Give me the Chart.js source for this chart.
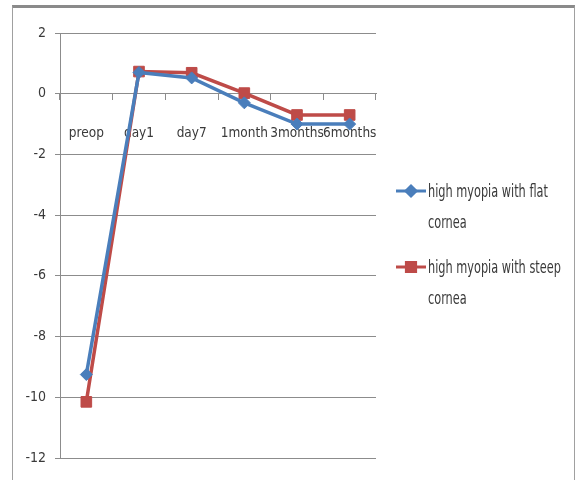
<!DOCTYPE html>
<html>
<head>
<meta charset="utf-8">
<script src="https://cdn.jsdelivr.net/npm/chart.js@4"></script>
<style>
    body { margin: 0; background: #fff; }
    #wrap { position: relative; width: 576px; height: 480px; overflow: hidden; }
    #frame {
        position: absolute; left: 12px; top: 5px; width: 561px; height: 520px;
        border: 1px solid #a0a0a0; border-top: 3px solid #8a8a8a;
    }
    canvas { position: absolute; left: 0; top: 0; }
</style>
</head>
<body>
<div id="wrap">
    <div id="frame"></div>
    <canvas id="lineChart" width="576" height="480"></canvas>
</div>
<script>
    const categories = ['preop', 'day1', 'day7', '1month', '3months', '6months'];
    const flatCornea = [-9.25, 0.7, 0.52, -0.3, -1.0, -1.0];
    const steepCornea = [-10.15, 0.73, 0.69, 0.02, -0.7, -0.7];
    const seriesNames = ['high myopia with flat cornea', 'high myopia with steep cornea'];
    const yTicks = [2, 0, -2, -4, -6, -8, -10, -12];

    const fontFamily = "'DejaVu Sans Condensed', 'Liberation Sans Narrow', sans-serif";
    const textColor = '#3a3a3a';
    const gridColor = '#8c8c8c';

    // Legend on the right, text wrapped on two lines like the original
    const sideLegend = {
        id: 'sideLegend',
        afterDraw(chart) {
            const ctx = chart.ctx;
            const rows = [191, 267];
            const markerSize = [5, 6.5];
            ctx.save();
            ctx.font = '17px ' + fontFamily;
            ctx.textBaseline = 'middle';
            chart.data.datasets.forEach((ds, i) => {
                const y = rows[i];
                ctx.strokeStyle = ds.borderColor;
                ctx.lineWidth = 3;
                ctx.beginPath();
                ctx.moveTo(396, y);
                ctx.lineTo(426, y);
                ctx.stroke();
                Chart.helpers.drawPoint(ctx, {
                    pointStyle: ds.pointStyle,
                    radius: markerSize[i],
                    borderWidth: 1
                }, 411, y);
                ctx.fillStyle = ds.borderColor;
                ctx.fill();
                ctx.fillStyle = textColor;
                const words = ds.label.split(' ');
                const last = words.pop();
                // squeeze the text, the original font is narrower
                ctx.save();
                ctx.translate(428, 0);
                ctx.scale(0.74, 1);
                ctx.fillText(words.join(' '), 0, y + 2);
                ctx.fillText(last, 0, y + 33);
                ctx.restore();
            });
            ctx.restore();
        }
    };

    new Chart(document.getElementById('lineChart'), {
        type: 'line',
        data: {
            labels: categories,
            datasets: [{
                label: seriesNames[0],
                data: flatCornea,
                borderColor: '#4a7ebb',
                backgroundColor: '#4a7ebb',
                borderWidth: 3.5,
                pointStyle: 'rectRot',
                pointRadius: 6,
                pointBorderWidth: 1,
                tension: 0
            }, {
                label: seriesNames[1],
                data: steepCornea,
                borderColor: '#be4b48',
                backgroundColor: '#be4b48',
                borderWidth: 3.5,
                pointStyle: 'rect',
                pointRadius: 7.5,
                pointBorderWidth: 1,
                tension: 0
            }]
        },
        options: {
            responsive: false,
            animation: false,
            layout: { padding: { left: 12, right: 200, top: 33, bottom: 22 } },
            plugins: {
                legend: { display: false },
                tooltip: { enabled: false }
            },
            scales: {
                x: {
                    position: { y: 0 },
                    offset: true,
                    border: { display: true, color: gridColor, width: 1 },
                    grid: {
                        offset: true,
                        drawOnChartArea: false,
                        drawTicks: true,
                        tickLength: 6,
                        color: gridColor
                    },
                    ticks: {
                        autoSkip: false,
                        maxRotation: 0,
                        padding: 26,
                        color: textColor,
                        font: { family: fontFamily, size: 13.5 }
                    }
                },
                y: {
                    min: -12,
                    max: 2,
                    afterFit(scale) { scale.width = 48; },
                    afterBuildTicks(scale) { scale.ticks = yTicks.map(v => ({ value: v })); },
                    border: { display: true, color: gridColor, width: 1 },
                    grid: { color: gridColor, tickLength: 5 },
                    ticks: {
                        padding: 9,
                        color: textColor,
                        font: { family: fontFamily, size: 14 }
                    }
                }
            }
        },
        plugins: [sideLegend]
    });
</script>
</body>
</html>
